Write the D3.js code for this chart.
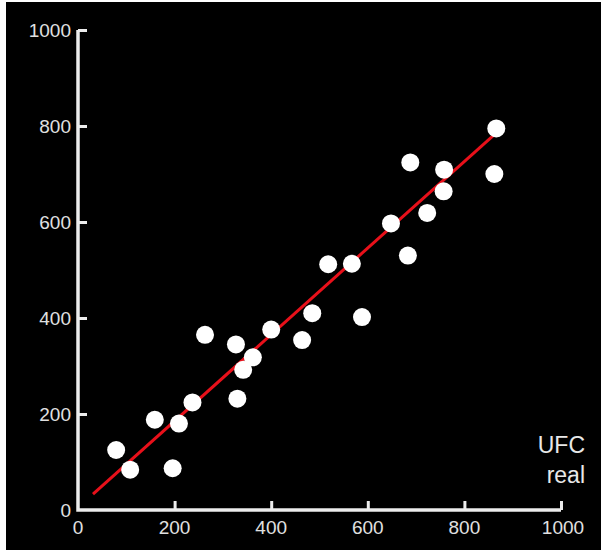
<!DOCTYPE html>
<html>
<head>
    <title>UFC scatter</title>
    <script src="https://d3js.org/d3.v7.min.js"></script>
    <style>
        body { margin: 0; background: #fff; }
        .tick-label { fill: #e0e0e0; font-family: "Liberation Sans", Arial, sans-serif; font-size: 19px; }
        .axis-title { fill: #e8e8e8; font-family: "Liberation Sans", Arial, sans-serif; font-size: 23px; }
    </style>
</head>
<body>
    <svg id="chart" width="601" height="554"></svg>
    <script>
        // data
        const realX = [79, 108, 159, 196, 209, 237, 263, 327, 330, 342, 362, 400, 464, 485, 518, 567, 588, 648, 683, 688, 723, 758, 757, 862, 866];
        const predY = [125, 84, 188, 87, 180, 224, 365, 345, 232, 292, 318, 376, 354, 410, 512, 513, 402, 597, 530, 724, 619, 709, 664, 700, 795];
        const fitX = [31, 862];
        const fitY = [33, 782];
        const ticks = [0, 200, 400, 600, 800, 1000];
        const titleLines = ["UFC", "real"];

        const svg = d3.select("#chart");
        svg.append("rect").attr("x", 6).attr("y", 2).attr("width", 595).attr("height", 548).attr("fill", "#000");

        const x = d3.scaleLinear().domain([0, 1000]).range([78, 561]);
        const y = d3.scaleLinear().domain([0, 1000]).range([510, 30]);

        // axes (ticks point inward)
        const axisCol = "#ececec";
        const yAxis = svg.append("g").attr("transform", "translate(78,0)")
            .call(d3.axisRight(y).tickValues(ticks.slice(1)).tickSize(9).tickFormat(""));
        const xAxis = svg.append("g").attr("transform", "translate(0,510)")
            .call(d3.axisTop(x).tickValues(ticks.slice(1)).tickSize(9).tickFormat(""));
        [xAxis, yAxis].forEach(g => {
            g.select(".domain").remove();
            g.selectAll("line").attr("stroke", axisCol).attr("stroke-width", 3);
        });
        svg.append("path")
            .attr("d", `M${x(0)},${y(1000)}V${y(0)}H${x(1000)}`)
            .attr("fill", "none").attr("stroke", axisCol).attr("stroke-width", 3.5);

        svg.selectAll(".ylab").data(ticks).enter().append("text")
            .attr("class", "tick-label")
            .attr("x", 71).attr("y", d => y(d) + 7)
            .attr("text-anchor", "end")
            .text(d => d);
        svg.selectAll(".xlab").data(ticks).enter().append("text")
            .attr("class", "tick-label")
            .attr("x", d => x(d) + (d === 1000 ? 2 : 0)).attr("y", 534)
            .attr("text-anchor", "middle")
            .text(d => d);

        // regression line
        svg.append("line")
            .attr("x1", x(fitX[0])).attr("y1", y(fitY[0]))
            .attr("x2", x(fitX[1])).attr("y2", y(fitY[1]))
            .attr("stroke", "#e8101a").attr("stroke-width", 3);

        svg.selectAll(".dot").data(realX).enter().append("circle")
            .attr("cx", d => x(d)).attr("cy", (d, i) => y(predY[i]))
            .attr("r", 9).attr("fill", "#fff");

        svg.selectAll(".title").data(titleLines).enter().append("text")
            .attr("class", "axis-title")
            .attr("x", 585).attr("y", (d, i) => 453 + i * 30)
            .attr("text-anchor", "end")
            .text(d => d);
    </script>
</body>
</html>
